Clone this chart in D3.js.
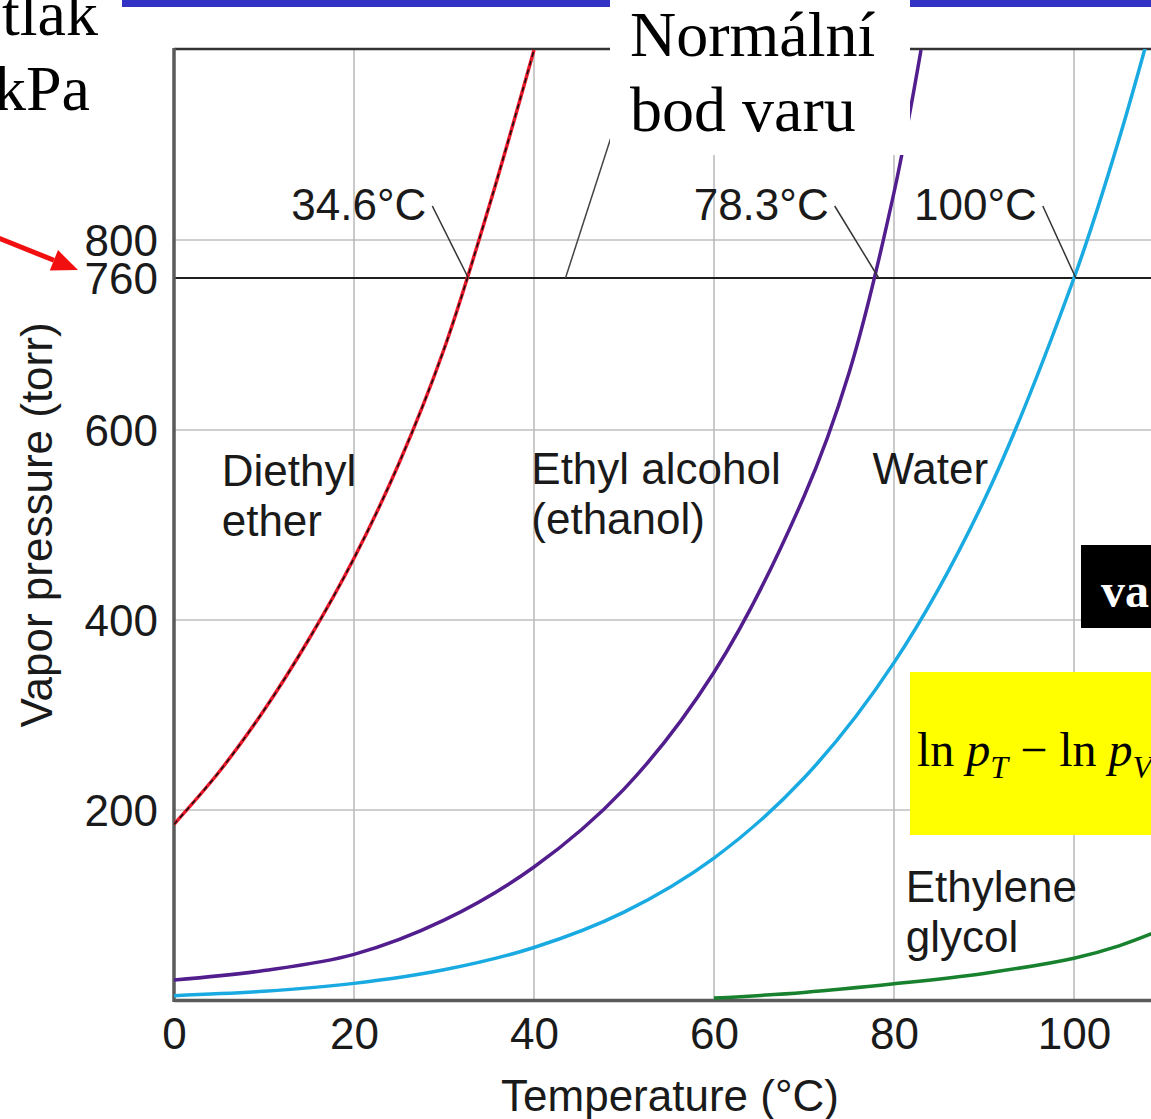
<!DOCTYPE html>
<html>
<head>
<meta charset="utf-8">
<script src="https://cdn.jsdelivr.net/npm/d3@7"></script>
<style>
  html, body { margin: 0; padding: 0; background: #fff; }
  svg { display: block; }
</style>
</head>
<body>
<svg width="1151" height="1119"></svg>
<script>
// data (temperature in °C, vapor pressure in torr)
const etherT = [0, 5, 10, 15, 20, 25, 30, 35, 40];
const etherP = [185, 240, 305, 380, 465, 565, 685, 835, 1000];
const ethanolT = [0, 10, 20, 30, 40, 50, 60, 70, 75, 80, 83];
const ethanolP = [21, 31, 48, 84, 140, 222, 345, 530, 660, 850, 1000];
const waterT = [0, 10, 20, 30, 40, 50, 60, 70, 80, 90, 100, 105, 110];
const waterP = [4.6, 9.2, 17.5, 31.8, 55.3, 92.5, 149.4, 233.7, 355.1, 525.8, 760, 906, 1075];
const glycolT = [60, 70, 80, 90, 100, 105, 110];
const glycolP = [2, 8, 17, 28, 44, 57, 75];

const xTicks = [0, 20, 40, 60, 80, 100];
const yTicks = [200, 400, 600, 760, 800];
const yGrid = [200, 400, 600, 800];
const xGrid = [20, 40, 60, 80, 100, 120];
const normalPressure = 760;

// boiling point callouts: label text and where the curve crosses 760 torr
const bpLabels = ["34.6°C", "78.3°C", "100°C"];
const bpCrossT = [32.7, 78.3, 100.2];

const svg = d3.select("svg");
const width = +svg.attr("width");
const height = +svg.attr("height");

const sans = "'Liberation Sans', Arial, Helvetica, sans-serif";
const serif = "'Liberation Serif', 'Times New Roman', serif";

const x = d3.scaleLinear().domain([0, 120]).range([174, 1254]);
const y = d3.scaleLinear().domain([0, 1000]).range([1000, 50]);

svg.append("rect").attr("width", width).attr("height", height).attr("fill", "#fff");

// clip for the plot area
svg.append("defs").append("clipPath").attr("id", "plot")
  .append("rect")
  .attr("x", x(0)).attr("y", y(1000) - 1)
  .attr("width", x(120) - x(0)).attr("height", y(0) - y(1000) + 2);

// grid
svg.append("g").selectAll("line").data(yGrid).join("line")
  .attr("x1", x(0)).attr("x2", width)
  .attr("y1", d => y(d)).attr("y2", d => y(d))
  .attr("stroke", "#cfcfcf").attr("stroke-width", 2);

svg.append("g").selectAll("line").data(xGrid).join("line")
  .attr("x1", d => x(d)).attr("x2", d => x(d))
  .attr("y1", y(1000)).attr("y2", y(0))
  .attr("stroke", "#b8b8b8").attr("stroke-width", 1.5);

// normal pressure line
svg.append("line")
  .attr("x1", x(0)).attr("x2", width)
  .attr("y1", y(normalPressure)).attr("y2", y(normalPressure))
  .attr("stroke", "#1e1e1e").attr("stroke-width", 2);

// frame
svg.append("line")
  .attr("x1", x(0)).attr("x2", width)
  .attr("y1", y(1000) - 1).attr("y2", y(1000) - 1)
  .attr("stroke", "#333").attr("stroke-width", 2.5);

// axes
const xAxis = svg.append("g")
  .attr("transform", `translate(0,${y(0)})`)
  .call(d3.axisBottom(x).tickValues(xTicks).tickSize(0).tickPadding(18));
xAxis.select(".domain").attr("stroke", "#5a5a5a").attr("stroke-width", 3.5);
xAxis.selectAll("text")
  .attr("font-family", sans).attr("font-size", 44).attr("fill", "#1a1a1a");

const yAxis = svg.append("g")
  .attr("transform", `translate(${x(0)},0)`)
  .call(d3.axisLeft(y).tickValues(yTicks).tickSize(0).tickPadding(16));
yAxis.select(".domain").attr("stroke", "#5a5a5a").attr("stroke-width", 3.5)
  .attr("d", `M0,${y(1000) - 2}V${y(0) + 2}`);
yAxis.selectAll("text")
  .attr("font-family", sans).attr("font-size", 44).attr("fill", "#1a1a1a")
  .attr("dy", "0.36em");

// axis titles
svg.append("text")
  .attr("x", 670).attr("y", 1111)
  .attr("text-anchor", "middle")
  .attr("font-family", sans).attr("font-size", 44).attr("fill", "#1a1a1a")
  .text("Temperature (°C)");

svg.append("text")
  .attr("transform", "translate(52,525) rotate(-90)")
  .attr("text-anchor", "middle")
  .attr("font-family", sans).attr("font-size", 44).attr("fill", "#1a1a1a")
  .text("Vapor pressure (torr)");

// curves
const line = d3.line()
  .x(d => x(d[0]))
  .y(d => y(d[1]))
  .curve(d3.curveCatmullRom.alpha(0.5));

const curves = svg.append("g").attr("clip-path", "url(#plot)");

curves.append("path").datum(d3.zip(glycolT, glycolP))
  .attr("d", line).attr("fill", "none")
  .attr("stroke", "#17812e").attr("stroke-width", 3.5);

curves.append("path").datum(d3.zip(waterT, waterP))
  .attr("d", line).attr("fill", "none")
  .attr("stroke", "#1aaae2").attr("stroke-width", 3.5);

curves.append("path").datum(d3.zip(ethanolT, ethanolP))
  .attr("d", line).attr("fill", "none")
  .attr("stroke", "#521e8e").attr("stroke-width", 3.5);

curves.append("path").datum(d3.zip(etherT, etherP))
  .attr("d", line).attr("fill", "none")
  .attr("stroke", "#e8182a").attr("stroke-width", 3.5);
curves.append("path").datum(d3.zip(etherT, etherP))
  .attr("d", line).attr("fill", "none")
  .attr("stroke", "#111").attr("stroke-width", 1.5)
  .attr("stroke-dasharray", "5,4");

// series labels
const textStyle = sel => sel
  .attr("font-family", sans).attr("font-size", 44).attr("fill", "#1a1a1a");

const seriesLabel = (tx, lines, baseY) => {
  const t = svg.append("text").call(textStyle);
  lines.forEach((s, i) => {
    t.append("tspan").attr("x", x(tx)).attr("y", baseY + i * 50).text(s);
  });
};
seriesLabel(5.3, ["Diethyl", "ether"], 486);
seriesLabel(39.7, ["Ethyl alcohol", "(ethanol)"], 484);
seriesLabel(77.6, ["Water"], 484);
seriesLabel(81.3, ["Ethylene", "glycol"], 902);

// boiling point callouts
const bpDx = [42, 50, 39];
const bp = svg.append("g");
bpLabels.forEach((lab, i) => {
  const cx = x(bpCrossT[i]);
  const tx = cx - bpDx[i];
  bp.append("text")
    .attr("x", tx).attr("y", 220)
    .attr("text-anchor", "end")
    .call(textStyle)
    .text(lab);
  bp.append("line")
    .attr("x1", tx + 6).attr("y1", 206)
    .attr("x2", cx).attr("y2", y(normalPressure))
    .attr("stroke", "#333").attr("stroke-width", 1.5);
});

// leader to the "Normální bod varu" callout
svg.append("line")
  .attr("x1", 614).attr("y1", 128)
  .attr("x2", x(43.5)).attr("y2", y(normalPressure))
  .attr("stroke", "#444").attr("stroke-width", 1.5);

// slide overlays
svg.append("rect")
  .attr("x", 122).attr("y", 0).attr("width", width - 122).attr("height", 7)
  .attr("fill", "#3232c4");

svg.append("rect")
  .attr("x", 610).attr("y", 0).attr("width", 300).attr("height", 155)
  .attr("fill", "#fff");

const callout = svg.append("text")
  .attr("font-family", serif).attr("font-size", 64).attr("fill", "#000");
callout.append("tspan").attr("x", 630).attr("y", 56).text("Normální");
callout.append("tspan").attr("x", 630).attr("y", 131).text("bod varu");

const unit = svg.append("text")
  .attr("font-family", serif).attr("font-size", 64).attr("fill", "#000");
unit.append("tspan").attr("x", 2).attr("y", 35).text("tlak");
unit.append("tspan").attr("x", -6).attr("y", 110).text("kPa");

// red arrow to 760
const ax0 = -4, ay0 = 237, ax1 = 78, ay1 = 270;
const ang = Math.atan2(ay1 - ay0, ax1 - ax0);
const hl = 26, hw = 11;
const bx = ax1 - hl * Math.cos(ang), by = ay1 - hl * Math.sin(ang);
svg.append("line")
  .attr("x1", ax0).attr("y1", ay0).attr("x2", bx).attr("y2", by)
  .attr("stroke", "#f20f0f").attr("stroke-width", 5);
svg.append("path")
  .attr("d", `M${ax1},${ay1}L${bx + hw * Math.sin(ang)},${by - hw * Math.cos(ang)}L${bx - hw * Math.sin(ang)},${by + hw * Math.cos(ang)}Z`)
  .attr("fill", "#f20f0f");

// black box
svg.append("rect")
  .attr("x", 1081).attr("y", 545).attr("width", 70).attr("height", 83)
  .attr("fill", "#000");
svg.append("text")
  .attr("x", 1101).attr("y", 607)
  .attr("font-family", serif).attr("font-size", 48).attr("font-weight", "bold")
  .attr("fill", "#fff")
  .text("va");

// yellow formula box
svg.append("rect")
  .attr("x", 910).attr("y", 672).attr("width", 241).attr("height", 163)
  .attr("fill", "#ffff00");
const f = svg.append("text")
  .attr("x", 917).attr("y", 766)
  .attr("font-family", serif).attr("font-size", 48).attr("fill", "#000");
f.append("tspan").text("ln ");
f.append("tspan").attr("font-style", "italic").text("p");
f.append("tspan").attr("font-style", "italic").attr("font-size", 32).attr("dy", 12).text("T");
f.append("tspan").attr("dy", -12).text(" − ln ");
f.append("tspan").attr("font-style", "italic").text("p");
f.append("tspan").attr("font-style", "italic").attr("font-size", 32).attr("dy", 12).text("V");
</script>
</body>
</html>
